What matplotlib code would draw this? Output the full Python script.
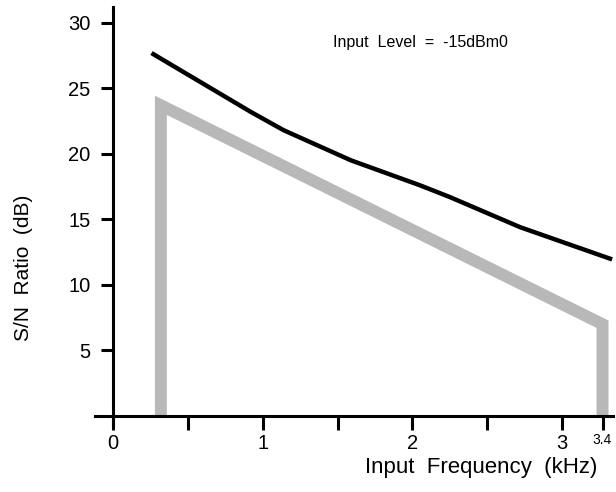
import matplotlib.pyplot as plt

plt.rcParams['font.family'] = ['Liberation Sans', 'DejaVu Sans']

# S/N ratio curve (kHz, dB)
freq = [0.27, 0.92, 1.14, 1.59, 2.05, 2.25, 2.72, 3.32]
sn_ratio = [27.6, 23.2, 21.8, 19.5, 17.6, 16.7, 14.4, 12.0]

# limit mask (gray band)
mask_freq = [0.32, 0.32, 3.27, 3.27]
mask_sn = [0.0, 23.7, 7.0, 0.0]

yticks = [5, 10, 15, 20, 25, 30]
xticks = [0, 1, 2, 3, 3.27]
xticklabels = ['0', '1', '2', '3', '3.4']
xminor = [0.5, 1.5, 2.5]

fig = plt.figure(figsize=(6.16, 4.92), dpi=100)
ax = fig.add_axes([95/616, 67/492, (613-95)/616, (485-67)/492])
ax.set_xlim(-0.12, 3.34)
ax.set_ylim(-0.69, 31.2)

ax.plot(mask_freq, mask_sn, color='#b8b8b8', lw=8.6, solid_joinstyle='miter',
        solid_capstyle='butt', zorder=1)
ax.plot(freq, sn_ratio, color='black', lw=3.2, zorder=2)

for s in ['top', 'right']:
    ax.spines[s].set_visible(False)
ax.spines['left'].set_position(('data', 0))
ax.spines['bottom'].set_position(('data', 0))
for s in ['left', 'bottom']:
    ax.spines[s].set_linewidth(2.2)
    ax.spines[s].set_zorder(3)

ax.set_yticks(yticks)
ax.set_xticks(xticks)
ax.set_xticklabels(xticklabels)
ax.set_xticks(xminor, minor=True)
ax.tick_params(axis='y', direction='out', length=9, width=2.2, pad=7, labelsize=14.5)
ax.tick_params(axis='x', which='both', direction='out', length=10, width=2.2, pad=3, labelsize=14.5)
lab = ax.get_xticklabels()[-1]
lab.set_fontsize(10)
lab.set_y(0.045)
lab.set_x(0.035)

ax.text(0.46, 0.914, 'Input  Level  =  -15dBm0', transform=ax.transAxes,
        fontsize=11.5, va='center')
fig.text(481/616, 1-468/492, 'Input  Frequency  (kHz)', ha='center', va='center',
         fontsize=16)
fig.text(24/616, 1-268/492, 'S/N  Ratio  (dB)', ha='center', va='center',
         rotation=90, fontsize=15)

fig.savefig('out.png', dpi=100)
